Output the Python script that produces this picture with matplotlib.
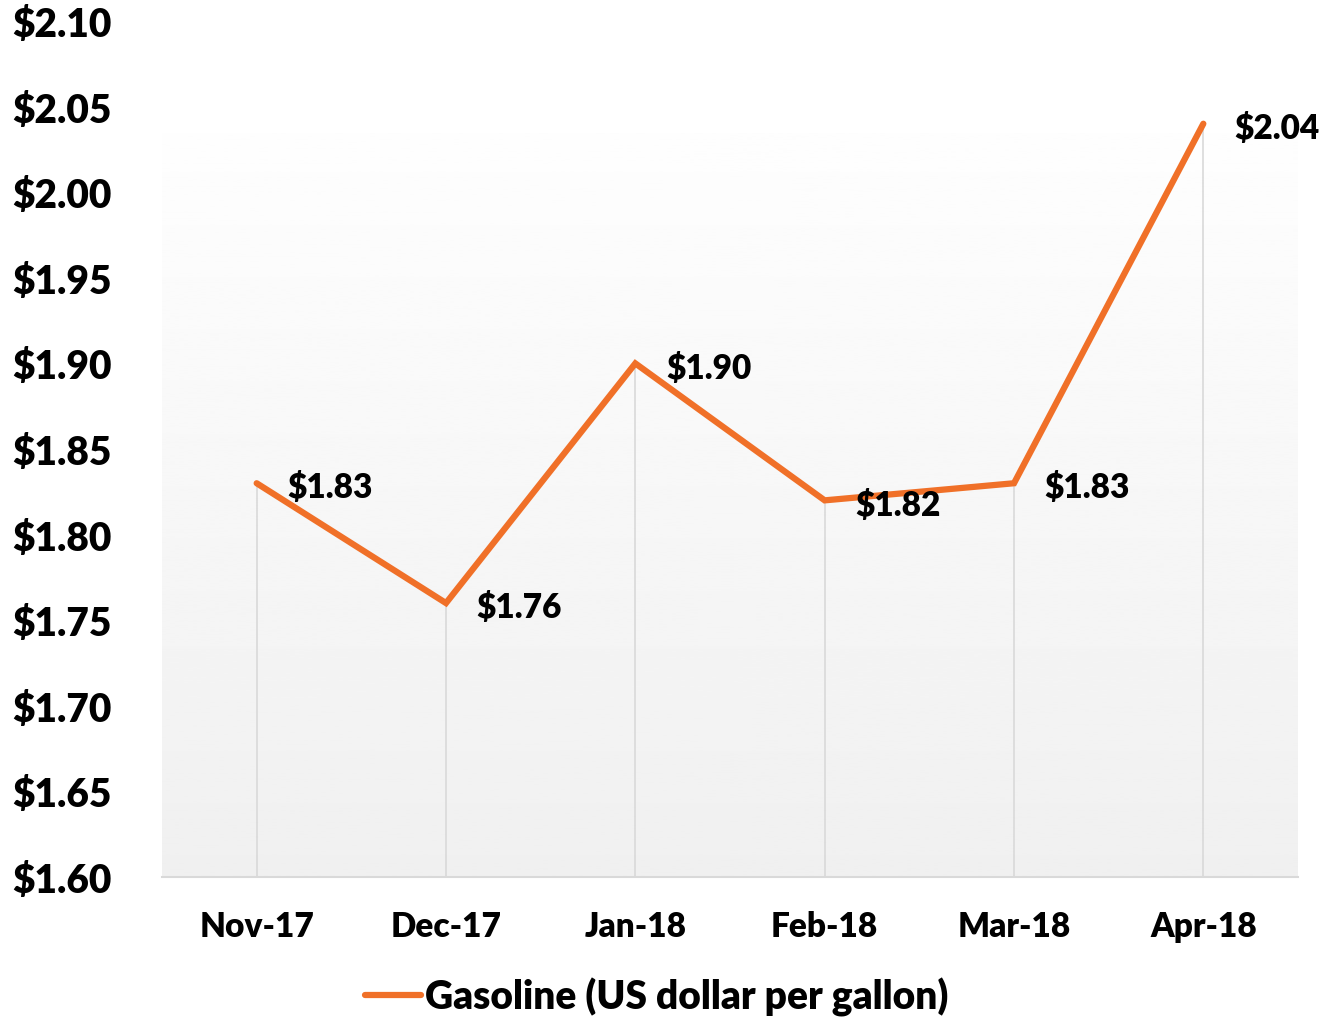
import numpy as np
import matplotlib
matplotlib.use("Agg")
import matplotlib.pyplot as plt
from matplotlib.ticker import FuncFormatter

months = ["Nov-17", "Dec-17", "Jan-18", "Feb-18", "Mar-18", "Apr-18"]
prices = [1.83, 1.76, 1.90, 1.82, 1.83, 2.04]
yticks = [1.60, 1.65, 1.70, 1.75, 1.80, 1.85, 1.90, 1.95, 2.00, 2.05, 2.10]
series_name = "Gasoline (US dollar per gallon)"

plt.rcParams['font.family'] = ['Lato', 'DejaVu Sans']
plt.rcParams['font.weight'] = 'heavy'

orange = "#F07028"
grid_c = "#d9d9d9"
peso = "heavy"

fig = plt.figure(figsize=(13.29, 10.2), dpi=100)
ax = fig.add_axes([162/1329, 142/1020, 1136/1329, 856/1020])

x = np.arange(len(months))

# fondo degradado (blanco arriba, gris claro abajo)
grad = np.linspace(0.94, 0.995, 256).reshape(-1, 1)
ax.imshow(grad, cmap="gray", vmin=0, vmax=1, aspect="auto",
          extent=(-0.5, len(months) - 0.5, 1.60, 2.034), origin="lower", zorder=0)

# lineas verticales desde cada punto
ax.vlines(x, 1.60, prices, color=grid_c, lw=1.2, zorder=1)

ax.plot(x, prices, color=orange, lw=4.5, solid_joinstyle="miter", zorder=3,
        label=series_name, solid_capstyle="round")

for xi, p in zip(x, prices):
    ax.annotate(f"${p:.2f}", (xi, p), xytext=(22, -3), textcoords="offset points",
                ha="left", va="center", fontsize=24, fontweight=peso, zorder=4)

ax.set_xlim(-0.5, len(months) - 0.5)
ax.set_ylim(1.60, 2.10)
ax.set_yticks(yticks)
ax.yaxis.set_major_formatter(FuncFormatter(lambda v, _: f"${v:.2f}"))
ax.set_xticks(x)
ax.set_xticklabels(months)

ax.tick_params(axis="y", length=0, pad=36, labelsize=28)
ax.tick_params(axis="x", length=0, pad=24, labelsize=24)
for lab in ax.get_xticklabels() + ax.get_yticklabels():
    lab.set_fontweight(peso)

for s in ["top", "right", "left"]:
    ax.spines[s].set_visible(False)
ax.spines["bottom"].set_color(grid_c)
ax.spines["bottom"].set_linewidth(1.5)
ax.set_facecolor("white")

leg = fig.legend(loc="center", bbox_to_anchor=(0.494, 0.0225), frameon=False,
                 handlelength=1.45, handletextpad=0.1,
                 prop={"weight": peso, "size": 28})

fig.savefig("out.png", dpi=100)
